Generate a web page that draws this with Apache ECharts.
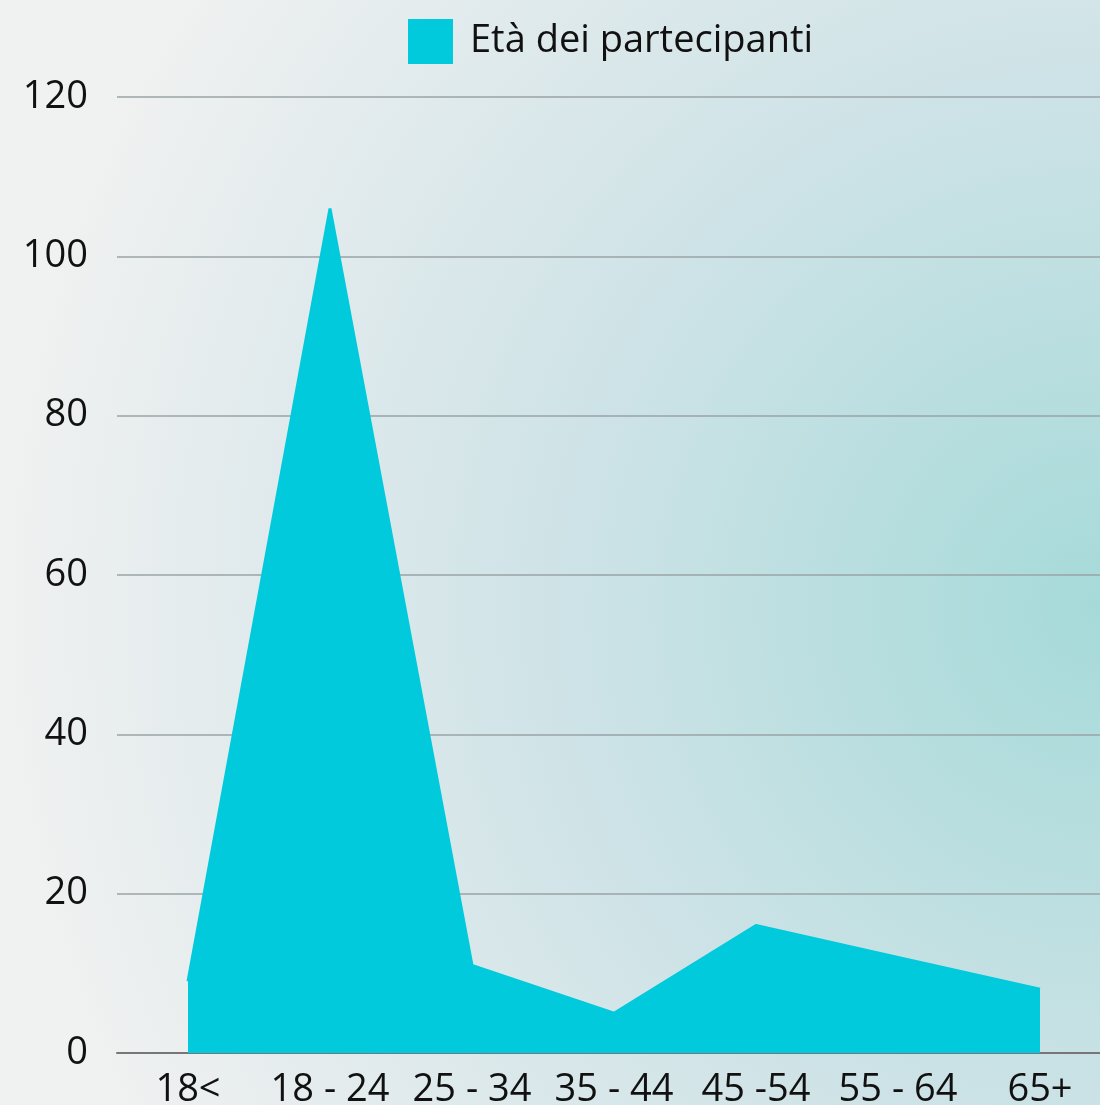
<!DOCTYPE html>
<html>
<head>
<meta charset="utf-8">
<script src="https://cdn.jsdelivr.net/npm/echarts@6/dist/echarts.min.js"></script>
<style>
  html, body { margin: 0; padding: 0; }
  #app { width: 1100px; height: 1105px; }
</style>
</head>
<body>
<div id="app"></div>
<script>
var categories = ['18<', '18 - 24', '25 - 34', '35 - 44', '45 -54', '55 - 64', '65+'];
var seriesName = 'Età dei partecipanti';
var values = [9, 106, 11, 5, 16, 12, 8];

var myChart = echarts.init(document.getElementById('app'));

var option = {
    backgroundColor: new echarts.graphic.RadialGradient(1, 0.55, 1, [
        { offset: 0, color: '#a6dad9' },
        { offset: 0.5, color: '#cfe3e7' },
        { offset: 1, color: '#f0f1f1' }
    ]),
    textStyle: {
        fontFamily: 'Open Sans'
    },
    legend: {
        left: 408,
        top: 19,
        padding: 0,
        itemWidth: 45,
        itemHeight: 45,
        itemGap: 17,
        icon: 'rect',
        textStyle: {
            fontSize: 38,
            color: '#111',
            fontFamily: 'Open Sans',
            padding: [0, 0, 0, 12]
        },
        data: [seriesName]
    },
    grid: {
        left: 117,
        width: 994,
        top: 97,
        bottom: 52,
        containLabel: false,
        outerBoundsMode: 'none'
    },
    xAxis: {
        type: 'category',
        boundaryGap: true,
        data: categories,
        axisTick: { show: false },
        axisLine: { lineStyle: { color: '#777', width: 2 } },
        axisLabel: {
            fontSize: 38,
            color: '#111',
            margin: 18,
            interval: 0
        }
    },
    yAxis: {
        type: 'value',
        min: 0,
        max: 120,
        interval: 20,
        axisLine: { show: false },
        axisTick: { show: false },
        axisLabel: {
            fontSize: 38,
            color: '#111',
            margin: 29
        },
        splitLine: { lineStyle: { color: '#9aa3a6', width: 1.5 } }
    },
    series: [
        {
            name: seriesName,
            type: 'line',
            data: values,
            symbol: 'none',
            itemStyle: { color: '#00cadb' },
            lineStyle: { color: '#00cadb', width: 3 },
            areaStyle: { color: '#00cadb', opacity: 1 },
            animation: false
        }
    ]
};

myChart.setOption(option);
</script>
</body>
</html>
